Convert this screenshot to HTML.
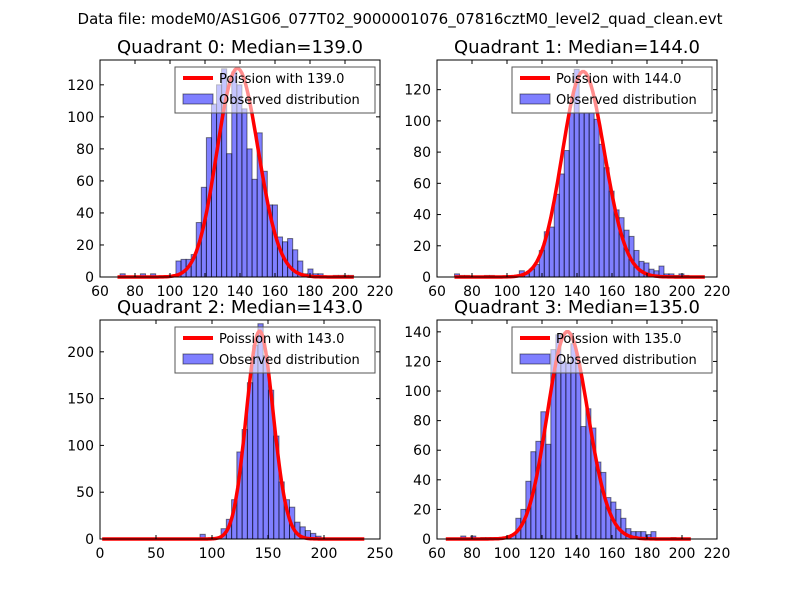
<!DOCTYPE html>
<html><head><meta charset="utf-8"><style>
body{margin:0;background:#fff}
svg{display:block;font-family:"DejaVu Sans","Liberation Sans",sans-serif}
</style></head><body>
<svg id="fig" width="800" height="600" viewBox="0 0 800 600">
<rect width="800" height="600" fill="#fff"/>
<text x="400" y="24" text-anchor="middle" font-size="15">Data file: modeM0/AS1G06_077T02_9000001076_07816cztM0_level2_quad_clean.evt</text>
</svg>
<script>
// ---- data ----
const medians = [139, 144, 143, 135];
const binStart = [68.6, 70, 0, 65];
const binWidth = [2.9, 2.85, 4.7, 2.86];
const counts0 = [0,2,0,0,0,2,0,2,0,0,0,0,10,11,11,14,34,56,87,108,120,130,77,128,120,105,80,61,90,66,45,45,25,22,24,17,10,2,5,2,2,0,0,1,1,1,1,0];
const counts1 = [2,1,1,0,0,0,1,1,0,0,0,0,0,4,2,5,8,17,29,32,53,66,81,105,133,105,105,105,101,85,70,55,43,38,30,26,17,10,9,5,4,7,2,2,1,2,1,0,0,0];
const counts2 = [0,0,0,0,0,0,0,0,0,0,0,0,0,0,0,0,0,0,0,5,0,0,0,11,21,42,93,117,167,207,230,196,159,110,61,42,34,18,13,9,6,3,1,0,0,0,0,0,0,0];
const counts3 = [0,0,0,2,0,2,0,1,1,1,0,1,1,3,14,20,39,59,66,86,64,128,138,120,119,132,119,76,88,75,52,45,28,25,20,14,7,5,5,5,3,5,0,0,0,1,0,0,0];
const curveNorm = [3850, 3960, 6655, 4080];
const curveRange = [[70,205],[70,213],[2,236],[65,205]];
const xTicks0 = [60,80,100,120,140,160,180,200,220];
const xTicks2 = [0,50,100,150,200,250];
const yTicks0 = [0,20,40,60,80,100,120];
const yTicks1 = [0,20,40,60,80,100,120];
const yTicks2 = [0,50,100,150,200];
const yTicks3 = [0,20,40,60,80,100,120,140];
const countsAll = [counts0, counts1, counts2, counts3];
const xTicksAll = [xTicks0, xTicks0, xTicks2, xTicks0];
const yTicksAll = [yTicks0, yTicks1, yTicks2, yTicks3];
const xDomains = [[60,220],[60,220],[0,250],[60,220]];
const yDomains = [[0,135.5],[0,139],[0,234],[0,148]];

const NS = "http://www.w3.org/2000/svg";
const svg = document.getElementById('fig');
function mk(tag, attrs, parent){const e=document.createElementNS(NS,tag);for(const k in attrs)e.setAttribute(k,attrs[k]);(parent||svg).appendChild(e);return e;}
function lgamma(z){const c=[76.18009172947146,-86.50532032941677,24.01409824083091,-1.231739572450155,0.1208650973866179e-2,-0.5395239384953e-5];let x=z,y=z,t=x+5.5;t-=(x+0.5)*Math.log(t);let s=1.000000000190015;for(let j=0;j<6;j++)s+=c[j]/++y;return -t+Math.log(2.5066282746310005*s/x);}
function pois(k,l){return Math.exp(k*Math.log(l)-l-lgamma(k+1));}

const boxes = [[100,60,380,277],[437,60,717,277],[100,320,380,539],[437,320,717,539]];
for(let p=0;p<4;p++){
  const [L,T,R,B]=boxes[p];
  const g=mk('g',{});
  
  
  const xd=xDomains[p], yd=yDomains[p];
  const X=v=>L+(v-xd[0])/(xd[1]-xd[0])*(R-L);
  const Y=v=>B-(v-yd[0])/(yd[1]-yd[0])*(B-T);
  const t=mk('text',{x:(L+R)/2,y:T-7,'text-anchor':'middle','font-size':18},g);
  t.textContent='Quadrant '+p+': Median='+medians[p].toFixed(1);
  
  
  const c=countsAll[p];
  for(let i=0;i<c.length;i++){
    if(c[i]<=0)continue;
    const x0=binStart[p]+i*binWidth[p];
    const r=mk('rect',{x:X(x0),y:Y(c[i]),width:X(x0+binWidth[p])-X(x0),height:Y(0)-Y(c[i]),fill:'rgba(0,0,255,0.5)',stroke:'rgba(0,0,0,0.5)','stroke-width':1},g);
    
    
  }
  let d='';
  for(let k=curveRange[p][0];k<=curveRange[p][1];k++){d+=(d?'L':'M')+X(k).toFixed(1)+','+Y(pois(k,medians[p])*curveNorm[p]).toFixed(1);}
  const pl=mk('path',{d:d,fill:'none',stroke:'#f00','stroke-width':3.5},g);
  
  
  mk('rect',{x:L,y:T,width:R-L,height:B-T,fill:'none',stroke:'#000','stroke-width':1},g);
  for(const v of xTicksAll[p]){
    const x=X(v);
    mk('line',{x1:x,x2:x,y1:B,y2:B-4,stroke:'#000'},g);
    mk('line',{x1:x,x2:x,y1:T,y2:T+4,stroke:'#000'},g);
    const tl=mk('text',{x:x,y:B+19,'text-anchor':'middle','font-size':14},g);
    tl.textContent=v;
    
    
  }
  for(const v of yTicksAll[p]){
    const y=Y(v);
    mk('line',{x1:L,x2:L+4,y1:y,y2:y,stroke:'#000'},g);
    mk('line',{x1:R,x2:R-4,y1:y,y2:y,stroke:'#000'},g);
    const tl=mk('text',{x:L-6,y:y+5,'text-anchor':'end','font-size':14},g);
    tl.textContent=v;
    
    
  }
  const lg=mk('g',{},g);
  
  
  mk('rect',{x:L+75,y:T+7,width:200,height:46,fill:'rgba(255,255,255,0.55)',stroke:'#555','stroke-width':1},lg);
  mk('line',{x1:L+83,x2:L+113,y1:T+18,y2:T+18,stroke:'#f00','stroke-width':4},lg);
  mk('rect',{x:L+83,y:T+34,width:30,height:10,fill:'rgba(0,0,255,0.5)',stroke:'rgba(0,0,0,0.5)'},lg);
  const l1=mk('text',{x:L+119,y:T+23,'font-size':13},lg);
  l1.textContent='Poission with '+medians[p].toFixed(1);
  
  
  const l2=mk('text',{x:L+119,y:T+44,'font-size':13},lg);
  l2.textContent='Observed distribution';
  
  
}
</script>
</body></html>
